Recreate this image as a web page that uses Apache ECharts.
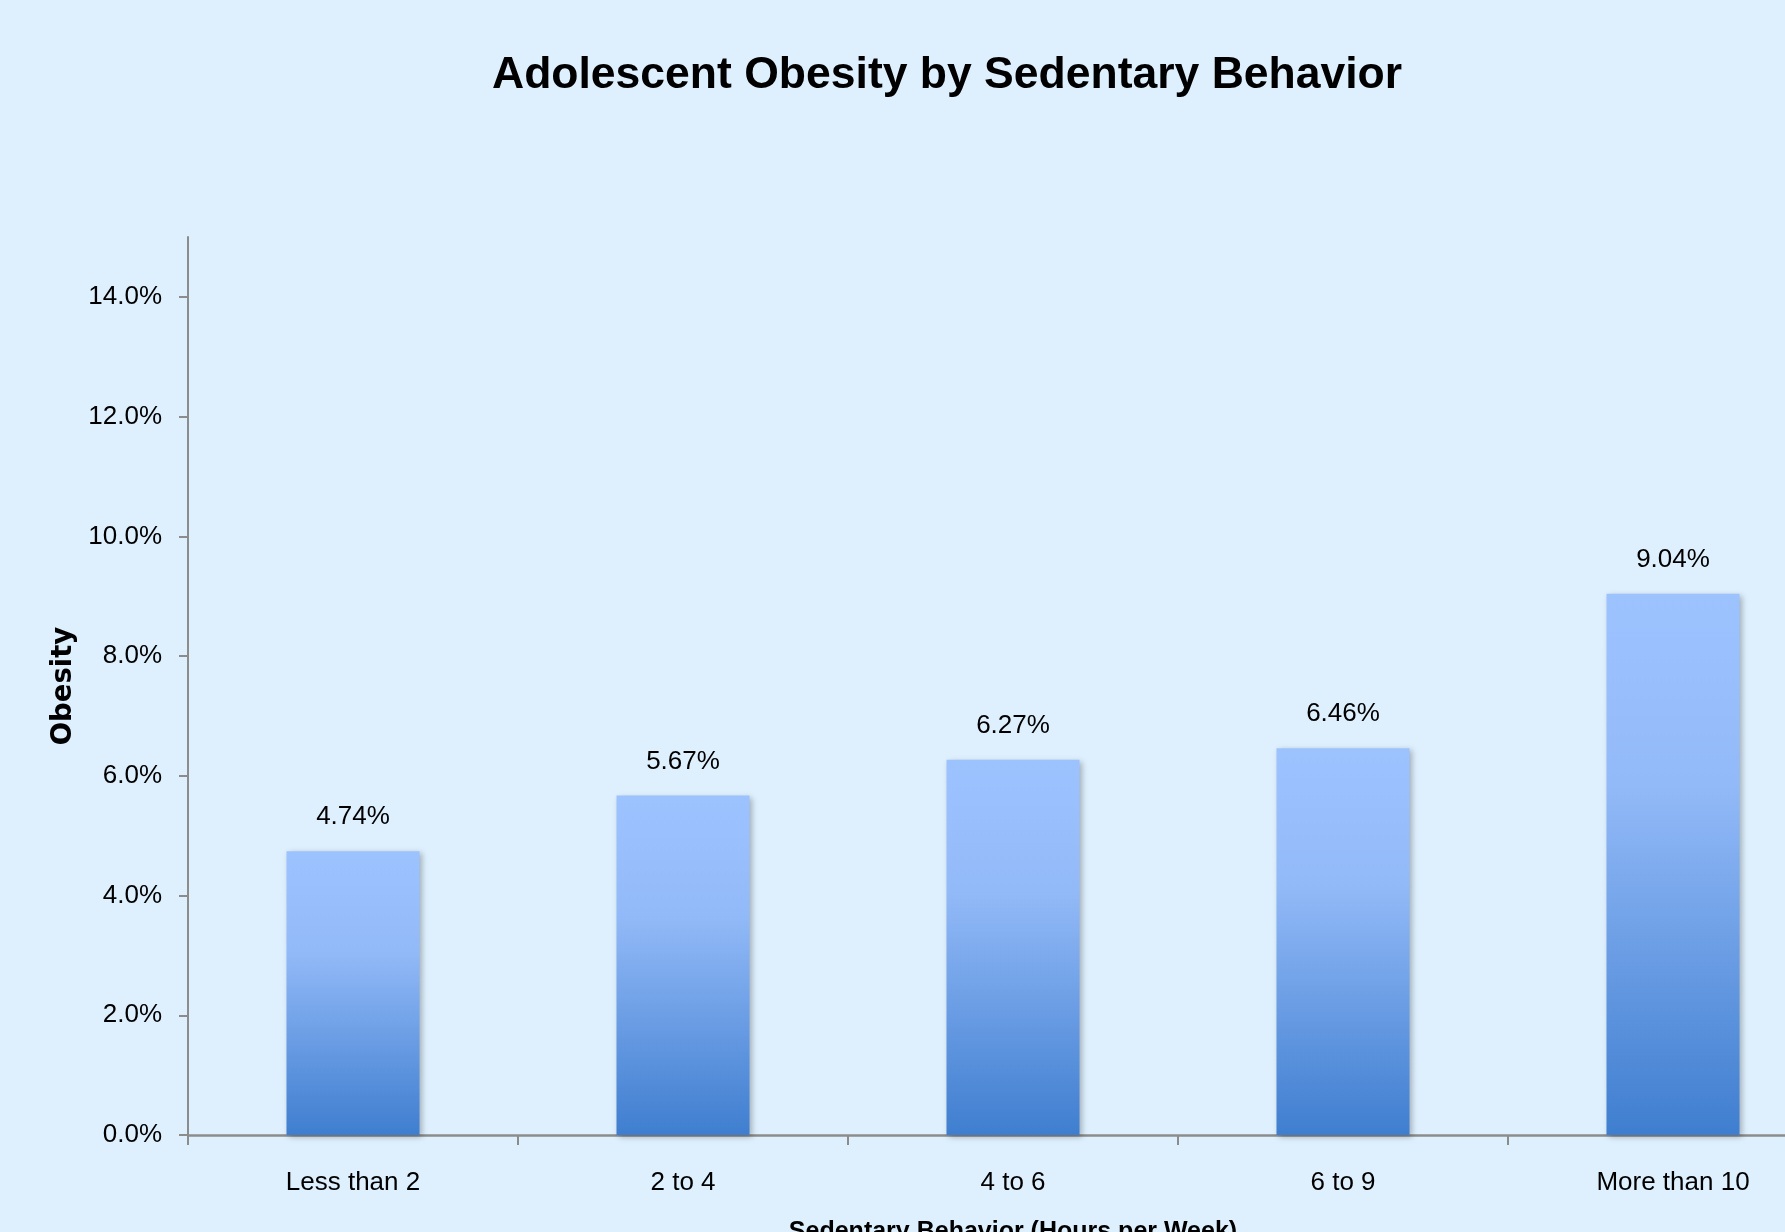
<!DOCTYPE html>
<html>
<head>
<meta charset="utf-8">
<title>Adolescent Obesity by Sedentary Behavior</title>
<script src="https://cdn.jsdelivr.net/npm/echarts@6/dist/echarts.min.js"></script>
<style>
  html, body { margin: 0; padding: 0; background: #DEF0FE; }
  #chart { width: 1785px; height: 1232px; }
</style>
</head>
<body>
<div id="chart"></div>
<script>
// Sedentary time bands (hours per week) and obesity share in percent
const categories = ['Less than 2', '2 to 4', '4 to 6', '6 to 9', 'More than 10'];
const obesityPct = [4.74, 5.67, 6.27, 6.46, 9.04];
const yTicks = [0, 2, 4, 6, 8, 10, 12, 14];

const sans = '"Liberation Sans Narrow", "Liberation Sans", Arial, sans-serif';
const axisGrey = '#8C8C8C';

const chart = echarts.init(document.getElementById('chart'), null, { renderer: 'canvas' });

chart.setOption({
  backgroundColor: '#DEF0FE',
  animation: false,
  title: {
    text: 'Adolescent Obesity by Sedentary Behavior',
    left: 487,
    top: 48,
    textStyle: {
      fontFamily: sans,
      fontWeight: 'bold',
      fontSize: 44.5,
      color: '#000'
    }
  },
  grid: {
    left: 188,
    top: 237,
    width: 1650,
    bottom: 97,
    containLabel: false,
    outerBoundsMode: 'none'
  },
  xAxis: {
    type: 'category',
    data: categories,
    name: 'Sedentary Behavior (Hours per Week)',
    nameLocation: 'middle',
    nameGap: 85,
    nameTextStyle: {
      fontFamily: sans,
      fontWeight: 'bold',
      fontSize: 25,
      color: '#000'
    },
    axisLine: { lineStyle: { color: axisGrey, width: 2.5 } },
    axisTick: { show: true, length: 10, lineStyle: { color: axisGrey, width: 2 } },
    axisLabel: {
      margin: 35,
      fontFamily: sans,
      fontSize: 26,
      color: '#000'
    },
    splitLine: { show: false }
  },
  yAxis: {
    type: 'value',
    min: 0,
    max: 15,
    interval: 2,
    name: 'Obesity',
    nameLocation: 'middle',
    nameGap: 89,
    nameRotate: 90,
    nameTextStyle: {
      fontFamily: '"DejaVu Sans", sans-serif',
      fontWeight: 'bold',
      fontSize: 27.5,
      color: '#000'
    },
    axisLine: { show: true, lineStyle: { color: axisGrey, width: 2 } },
    axisTick: {
      show: true,
      length: 9,
      customValues: yTicks,
      lineStyle: { color: axisGrey, width: 2 }
    },
    axisLabel: {
      margin: 26,
      customValues: yTicks,
      fontFamily: sans,
      fontSize: 26,
      color: '#000',
      formatter: v => v.toFixed(1) + '%'
    },
    splitLine: { show: false }
  },
  series: [{
    type: 'bar',
    data: obesityPct,
    barWidth: 133,
    itemStyle: {
      color: new echarts.graphic.LinearGradient(0, 0, 0, 1, [
        { offset: 0, color: '#9DC3FF' },
        { offset: 0.35, color: '#93BAF8' },
        { offset: 1, color: '#3F7ECF' }
      ]),
      shadowColor: 'rgba(0, 0, 0, 0.28)',
      shadowBlur: 6,
      shadowOffsetX: 2,
      shadowOffsetY: 2
    },
    label: {
      show: true,
      position: 'top',
      distance: 21,
      fontFamily: sans,
      fontSize: 26,
      color: '#000',
      formatter: p => p.value.toFixed(2) + '%'
    }
  }]
});
</script>
</body>
</html>
